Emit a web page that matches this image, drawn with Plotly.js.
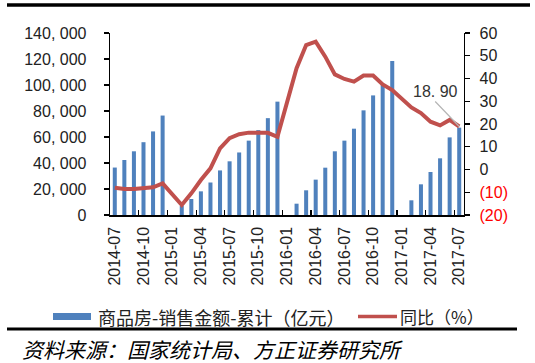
<!DOCTYPE html>
<html>
<head>
<meta charset="utf-8">
<script src="https://cdn.plot.ly/plotly-3.0.1.min.js"></script>
<style>
html,body{margin:0;padding:0;background:#ffffff;}
#chart{width:535px;height:363px;}
</style>
</head>
<body>
<div id="chart"></div>
<script>
// ---------- data ----------
const months = [
  '2014-07','2014-08','2014-09','2014-10','2014-11','2014-12',
  '2015-01','2015-02','2015-03','2015-04','2015-05','2015-06',
  '2015-07','2015-08','2015-09','2015-10','2015-11','2015-12',
  '2016-01','2016-02','2016-03','2016-04','2016-05','2016-06',
  '2016-07','2016-08','2016-09','2016-10','2016-11','2016-12',
  '2017-01','2017-02','2017-03','2017-04','2017-05','2017-06','2017-07'
];
// 商品房-销售金额-累计（亿元）
const salesCum = [
  36500, 42300, 49000, 56000, 64300, 76500,
  null, 6900, 12300, 18200, 25000, 34300,
  41300, 48100, 57200, 65300, 74500, 87200,
  null, 8700, 19000, 27200, 36400, 49000,
  57200, 66400, 80500, 92000, 100100, 118500,
  null, 11300, 23600, 33100, 43600, 59700, 67200
];
// 同比（%）
const yoy = [
  -8.0, -8.6, -8.6, -8.0, -7.8, -6.1,
  null, -15.6, -10.5, -4.6, 0.5, 9.3,
  13.8, 15.5, 16.2, 16.0, 16.1, 14.4,
  null, 44.5, 54.7, 56.2, 49.6, 41.8,
  39.8, 38.6, 41.3, 41.3, 37.4, 34.9,
  null, 27.3, 24.8, 21.0, 19.4, 21.8, 18.9
];
const xTickLabels = ['2014-07','2014-10','2015-01','2015-04','2015-07','2015-10','2016-01','2016-04','2016-07','2016-10','2017-01','2017-04','2017-07'];
const leftTickVals = [0, 20000, 40000, 60000, 80000, 100000, 120000, 140000];
const leftTickText = ['0', '20, 000', '40, 000', '60, 000', '80, 000', '100, 000', '120, 000', '140, 000'];
const rightTickVals = [-20, -10, 0, 10, 20, 30, 40, 50, 60];
const rightTickText = ['<span style="color:#FF0000">(20)</span>', '<span style="color:#FF0000">(10)</span>', '0', '10', '20', '30', '40', '50', '60'];
const seriesNames = ['商品房-销售金额-累计（亿元）', '同比（%）'];
const lastLabel = '18. 90';
const sourceText = '资料来源：国家统计局、方正证券研究所';

// ---------- layout helpers (pixel -> paper) ----------
const W = 535, H = 363, PL = 110, PR = 464, PT = 33, PB = 215;
const px = x => (x - PL) / (PR - PL);
const py = y => (PB - y) / (PB - PT);

const BLUE = '#4F81BD', RED = '#C0504D';
const latin = 'Liberation Sans, Arial, sans-serif';
const cjk = 'Noto Sans CJK SC, sans-serif';

const traces = [
  {
    type: 'bar', name: seriesNames[0], x: months, y: salesCum,
    marker: {color: BLUE}, hoverinfo: 'skip', showlegend: false
  },
  {
    type: 'scatter', mode: 'lines', name: seriesNames[1], x: months, y: yoy,
    yaxis: 'y2', connectgaps: true,
    line: {color: RED, width: 4}, hoverinfo: 'skip', showlegend: false
  }
];

const layout = {
  width: W, height: H,
  margin: {l: PL, r: W - PR, t: PT, b: H - PB, pad: 0},
  paper_bgcolor: '#ffffff', plot_bgcolor: '#ffffff',
  bargap: 0.58,
  showlegend: false,
  font: {family: latin, size: 16, color: '#222222'},
  xaxis: {
    type: 'category', categoryorder: 'array', categoryarray: months,
    range: [-0.5, months.length - 0.5],
    tickmode: 'array', tickvals: xTickLabels, ticktext: xTickLabels,
    tickangle: -90, tickson: 'boundaries',
    ticks: 'inside', ticklen: 5, tickwidth: 1.2, tickcolor: '#000',
    showline: true, linecolor: '#000', linewidth: 1.5,
    showgrid: false, zeroline: false,
    ticklabelstandoff: 4,
    tickfont: {family: latin, size: 16, color: '#222'}
  },
  yaxis: {
    range: [0, 140000], tickmode: 'array', tickvals: leftTickVals, ticktext: leftTickText,
    ticks: 'outside', ticklen: 5, tickwidth: 1.2, tickcolor: '#000',
    showline: true, linecolor: '#000', linewidth: 1.3,
    showgrid: false, zeroline: false,
    ticklabelstandoff: 14,
    tickfont: {family: latin, size: 16, color: '#222'}
  },
  yaxis2: {
    overlaying: 'y', side: 'right', anchor: 'x',
    range: [-20, 60], tickmode: 'array', tickvals: rightTickVals, ticktext: rightTickText,
    ticks: 'outside', ticklen: 5, tickwidth: 1.2, tickcolor: '#000',
    showline: true, linecolor: '#000', linewidth: 1.3,
    showgrid: false, zeroline: false,
    ticklabelstandoff: 6,
    tickfont: {family: latin, size: 16, color: '#222'}
  },
  shapes: [
    // top rule
    {type: 'line', xref: 'paper', yref: 'paper', x0: px(7), x1: px(530), y0: py(5), y1: py(5), line: {color: '#000', width: 3.4}},
    // bottom rule
    {type: 'line', xref: 'paper', yref: 'paper', x0: px(7), x1: px(517), y0: py(329), y1: py(329), line: {color: '#000', width: 3}},
    // legend symbols
    {type: 'rect', xref: 'paper', yref: 'paper', x0: px(53), x1: px(91), y0: py(313), y1: py(320), fillcolor: BLUE, line: {width: 0}},
    {type: 'line', xref: 'paper', yref: 'paper', x0: px(358), x1: px(397), y0: py(316.5), y1: py(316.5), line: {color: RED, width: 3.5}}
  ],
  annotations: [
    {
      x: months[months.length - 1], y: yoy[yoy.length - 1], xref: 'x', yref: 'y2',
      text: lastLabel, showarrow: true, arrowhead: 0, arrowwidth: 1.2, arrowcolor: '#b5b5b5',
      ax: -24, ay: -25, xanchor: 'center', yanchor: 'bottom',
      font: {family: latin, size: 16, color: '#333'}
    },
    {
      xref: 'paper', yref: 'paper', x: px(96), y: py(316.5), xanchor: 'left', yanchor: 'middle',
      showarrow: false, text: seriesNames[0], font: {family: cjk, size: 18, color: '#222'}
    },
    {
      xref: 'paper', yref: 'paper', x: px(398), y: py(316.5), xanchor: 'left', yanchor: 'middle',
      showarrow: false, text: seriesNames[1], font: {family: cjk, size: 17, color: '#222'}
    },
    {
      xref: 'paper', yref: 'paper', x: px(20), y: py(349), xanchor: 'left', yanchor: 'middle',
      showarrow: false, text: sourceText, font: {family: cjk, size: 21, color: '#000', style: 'italic'}
    }
  ]
};

Plotly.newPlot('chart', traces, layout, {staticPlot: true, displayModeBar: false});
</script>
</body>
</html>
